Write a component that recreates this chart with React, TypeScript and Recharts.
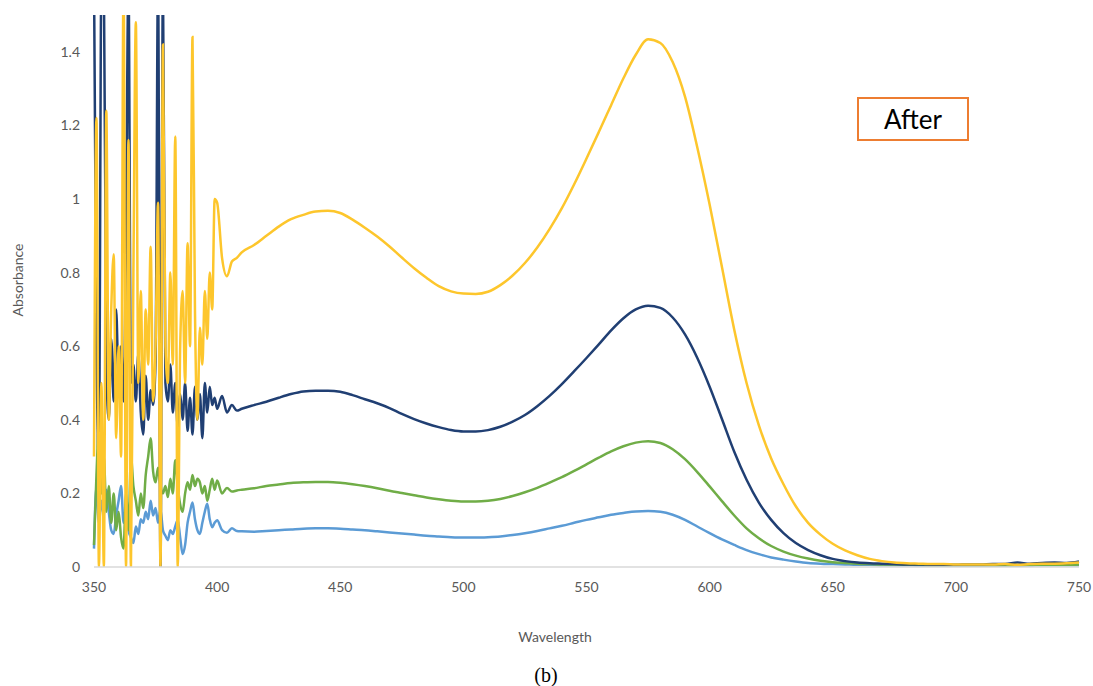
import { LineChart, Line, XAxis, YAxis } from 'recharts';

// wavelength grid (nm): 1 nm steps through the noisy UV part, then coarser
const wavelengths = [
  350, 351, 352, 353, 354, 355, 356, 357, 358, 359,
  360, 361, 362, 363, 364, 365, 366, 367, 368, 369,
  370, 371, 372, 373, 374, 375, 376, 377, 378, 379,
  380, 381, 382, 383, 384, 385, 386, 387, 388, 389,
  390, 391, 392, 393, 394, 395, 396, 397, 398, 399,
  400,
  402, 404, 406, 408,
  410, 415, 420, 425, 430, 435, 440, 445, 450, 455,
  460, 465, 470, 475, 480, 485, 490, 495, 500, 505,
  510, 515, 520, 525, 530, 535, 540, 545, 550, 555,
  560, 565, 570, 575, 580, 585, 590, 595, 600, 605,
  610, 615, 620, 625, 630, 635, 640, 645, 650, 655,
  660, 665, 670, 675, 680, 685, 690, 695, 700, 705,
  710, 715, 720, 725, 730, 735, 740, 745, 750,
];

const lightBlue = [
  0.05, 0.22, 0.12, 0.18, 0.14, 0.21, 0.15, 0.1, 0.09, 0.14,
  0.18, 0.22, 0.12, 0.16, 0.1, 0.08, 0.065, 0.11, 0.09, 0.13,
  0.12, 0.15, 0.13, 0.18, 0.14, 0.16, 0.12, 0.155, 0.1, 0.085,
  0.073, 0.1, 0.09, 0.11, 0.128, 0.08, 0.035, 0.06, 0.12, 0.15,
  0.175, 0.13, 0.1, 0.09, 0.12, 0.15, 0.172, 0.13, 0.108, 0.12,
  0.127,
  0.1, 0.093, 0.105, 0.098,
  0.097, 0.096, 0.098, 0.1, 0.102, 0.104, 0.105, 0.105, 0.104, 0.102,
  0.1, 0.097, 0.094, 0.091, 0.088, 0.085, 0.083, 0.081, 0.08, 0.08,
  0.081, 0.083, 0.087, 0.092, 0.098, 0.105, 0.112, 0.12, 0.128, 0.135,
  0.142, 0.147, 0.151, 0.152, 0.15, 0.142, 0.128, 0.11, 0.092, 0.075,
  0.06, 0.046, 0.035, 0.026, 0.02, 0.015, 0.011, 0.009, 0.008, 0.007,
  0.006, 0.006, 0.005, 0.005, 0.005, 0.004, 0.004, 0.004, 0.004, 0.004,
  0.004, 0.004, 0.004, 0.004, 0.004, 0.005, 0.005, 0.005, 0.005,
];

const green = [
  0.06, 0.25, 0.38, 0.2, 0.3, 0.15, 0.22, 0.12, 0.2, 0.1,
  0.15, 0.08, 0.05, 0.2, 0.1, 0.3, 0.22, 0.18, 0.14, 0.2,
  0.16, 0.25, 0.3, 0.35, 0.26, 0.23, 0.27, 0.22, 0.2, 0.22,
  0.19, 0.24, 0.2, 0.29, 0.22, 0.17, 0.15, 0.2, 0.23, 0.21,
  0.25, 0.22, 0.24, 0.23, 0.2, 0.22, 0.18, 0.21, 0.24, 0.21,
  0.235,
  0.2, 0.215, 0.205, 0.208,
  0.21, 0.214, 0.22, 0.224, 0.228, 0.23, 0.231, 0.231, 0.229, 0.225,
  0.22, 0.214, 0.207, 0.201, 0.195, 0.189, 0.184, 0.18, 0.178, 0.178,
  0.18, 0.185, 0.193, 0.203, 0.215, 0.229, 0.244, 0.261, 0.279, 0.297,
  0.314, 0.328, 0.338, 0.342, 0.337, 0.32, 0.293, 0.258, 0.219, 0.179,
  0.14, 0.105, 0.078, 0.057, 0.042, 0.031, 0.023, 0.017, 0.013, 0.011,
  0.009, 0.008, 0.007, 0.007, 0.006, 0.006, 0.005, 0.005, 0.005, 0.005,
  0.005, 0.005, 0.005, 0.005, 0.006, 0.006, 0.006, 0.006, 0.007,
];

const navy = [
  1.6, 0.6, 0.3, 1.6, 1.6, 0.55, 0.4, 0.62, 0.45, 0.7,
  0.5, 0.6, 0.45, 0.9, 1.6, 0.5, 0.55, 0.45, 0.58, 0.42,
  0.36, 0.52, 0.4, 0.48, 0.44, 0.56, 1.6, 0, 1.6, 0.5,
  0.45, 0.55, 0.42, 0.5, 0.38, 0.47, 0.4, 0.5, 0.37, 0.46,
  0.36, 0.49, 0.4, 0.47, 0.35, 0.5, 0.42, 0.49, 0.44, 0.46,
  0.43,
  0.465, 0.42, 0.44, 0.425,
  0.43, 0.44, 0.449, 0.46, 0.47, 0.477, 0.479, 0.479, 0.476, 0.467,
  0.456, 0.445, 0.432, 0.416, 0.402, 0.39, 0.38, 0.372, 0.368, 0.368,
  0.372, 0.381, 0.395, 0.413, 0.437, 0.465, 0.497, 0.532, 0.568, 0.605,
  0.643, 0.676, 0.7, 0.71, 0.704, 0.678, 0.632, 0.568, 0.49, 0.402,
  0.313, 0.237, 0.175, 0.128, 0.092, 0.065, 0.046, 0.032, 0.022, 0.016,
  0.012, 0.01, 0.009, 0.008, 0.007, 0.007, 0.006, 0.006, 0.006, 0.007,
  0.007, 0.008, 0.008, 0.012, 0.009, 0.011, 0.012, 0.011, 0.015,
];

const yellow = [
  0.3, 1.22, 0, 0.5, 0, 1.24, 0.4, 0.7, 0.85, 0.35,
  0.6, 0.3, 1.6, 0, 1.16, 0, 0.8, 1.48, 0.5, 0.75,
  0.4, 0.7, 0.55, 0.87, 0.45, 0.6, 0.99, 0, 1.42, 0.6,
  0.5, 0.8, 0.55, 1.17, 0, 0.6, 0.75, 0.5, 0.88, 0.6,
  1.44, 0.7, 0.4, 0.65, 0.55, 0.75, 0.62, 0.8, 0.7, 1.0,
  0.99,
  0.84, 0.79, 0.83, 0.84,
  0.855, 0.875, 0.9, 0.925, 0.945, 0.957, 0.966, 0.968, 0.962, 0.944,
  0.922, 0.898, 0.871, 0.841, 0.812, 0.786, 0.763, 0.749, 0.743, 0.742,
  0.748, 0.766, 0.792, 0.826, 0.868, 0.918, 0.975, 1.04, 1.11, 1.182,
  1.255, 1.328, 1.392, 1.434, 1.424, 1.372, 1.278, 1.14, 0.985, 0.815,
  0.645, 0.5, 0.385, 0.295, 0.225, 0.165, 0.12, 0.088, 0.063, 0.045,
  0.032, 0.022, 0.016, 0.012, 0.01, 0.009, 0.008, 0.008, 0.007, 0.007,
  0.007, 0.007, 0.008, 0.006, 0.008, 0.009, 0.009, 0.01, 0.012,
];

const xTicks = [350, 400, 450, 500, 550, 600, 650, 700, 750];
const yTicks = [0, 0.2, 0.4, 0.6, 0.8, 1, 1.2, 1.4];

const rows = wavelengths.map((nm, i) => ({
  nm,
  lightBlue: lightBlue[i],
  green: green[i],
  navy: navy[i],
  yellow: yellow[i],
}));

const FONT = 'Lato, "Open Sans", sans-serif';
const tickStyle = { fill: '#595959', fontSize: 14, fontFamily: FONT };

export default function App() {
  return (
    <div style={{ position: 'relative', width: 1093, height: 686, overflow: 'hidden', background: '#fff' }}>
      <style>{'body { margin: 0; }'}</style>
      <LineChart width={1093} height={608} data={rows} margin={{ top: 15, right: 14, left: 0, bottom: 11 }}>
        <XAxis
          dataKey="nm"
          type="number"
          domain={[350, 750]}
          ticks={xTicks}
          tickLine={false}
          tickMargin={9}
          height={30}
          stroke="#d9d9d9"
          strokeWidth={1.5}
          tick={tickStyle}
        />
        <YAxis
          type="number"
          domain={[0, 1.5]}
          allowDataOverflow
          ticks={yTicks}
          axisLine={false}
          tickLine={false}
          tickMargin={8}
          width={94}
          tick={tickStyle}
        />
        <Line dataKey="lightBlue" type="monotone" stroke="#5b9bd5" strokeWidth={2.5} dot={false} isAnimationActive={false} />
        <Line dataKey="green" type="monotone" stroke="#70ad47" strokeWidth={2.5} dot={false} isAnimationActive={false} />
        <Line dataKey="navy" type="monotone" stroke="#203f73" strokeWidth={2.5} dot={false} isAnimationActive={false} />
        <Line dataKey="yellow" type="monotone" stroke="#fdc62c" strokeWidth={2.5} dot={false} isAnimationActive={false} />
      </LineChart>

      <div
        style={{
          position: 'absolute', left: 17, top: 280, transform: 'translate(-50%, -50%) rotate(-90deg)',
          fontFamily: FONT, fontSize: 14, color: '#595959', whiteSpace: 'nowrap',
        }}
      >
        Absorbance
      </div>
      <div
        style={{
          position: 'absolute', left: 555, top: 636, transform: 'translate(-50%, -50%)',
          fontFamily: FONT, fontSize: 14, color: '#595959',
        }}
      >
        Wavelength
      </div>
      <div
        style={{
          position: 'absolute', left: 546, top: 675, transform: 'translate(-50%, -50%)',
          fontFamily: '"Liberation Serif", serif', fontSize: 20, lineHeight: '20px', color: '#000',
        }}
      >
        (b)
      </div>
      <div
        style={{
          position: 'absolute', left: 857, top: 97, width: 112, height: 44, boxSizing: 'border-box',
          border: '2px solid #ed7d31', display: 'flex', alignItems: 'center', justifyContent: 'center',
          fontFamily: FONT, fontSize: 26, color: '#000', background: '#fff',
        }}
      >
        After
      </div>
    </div>
  );
}
